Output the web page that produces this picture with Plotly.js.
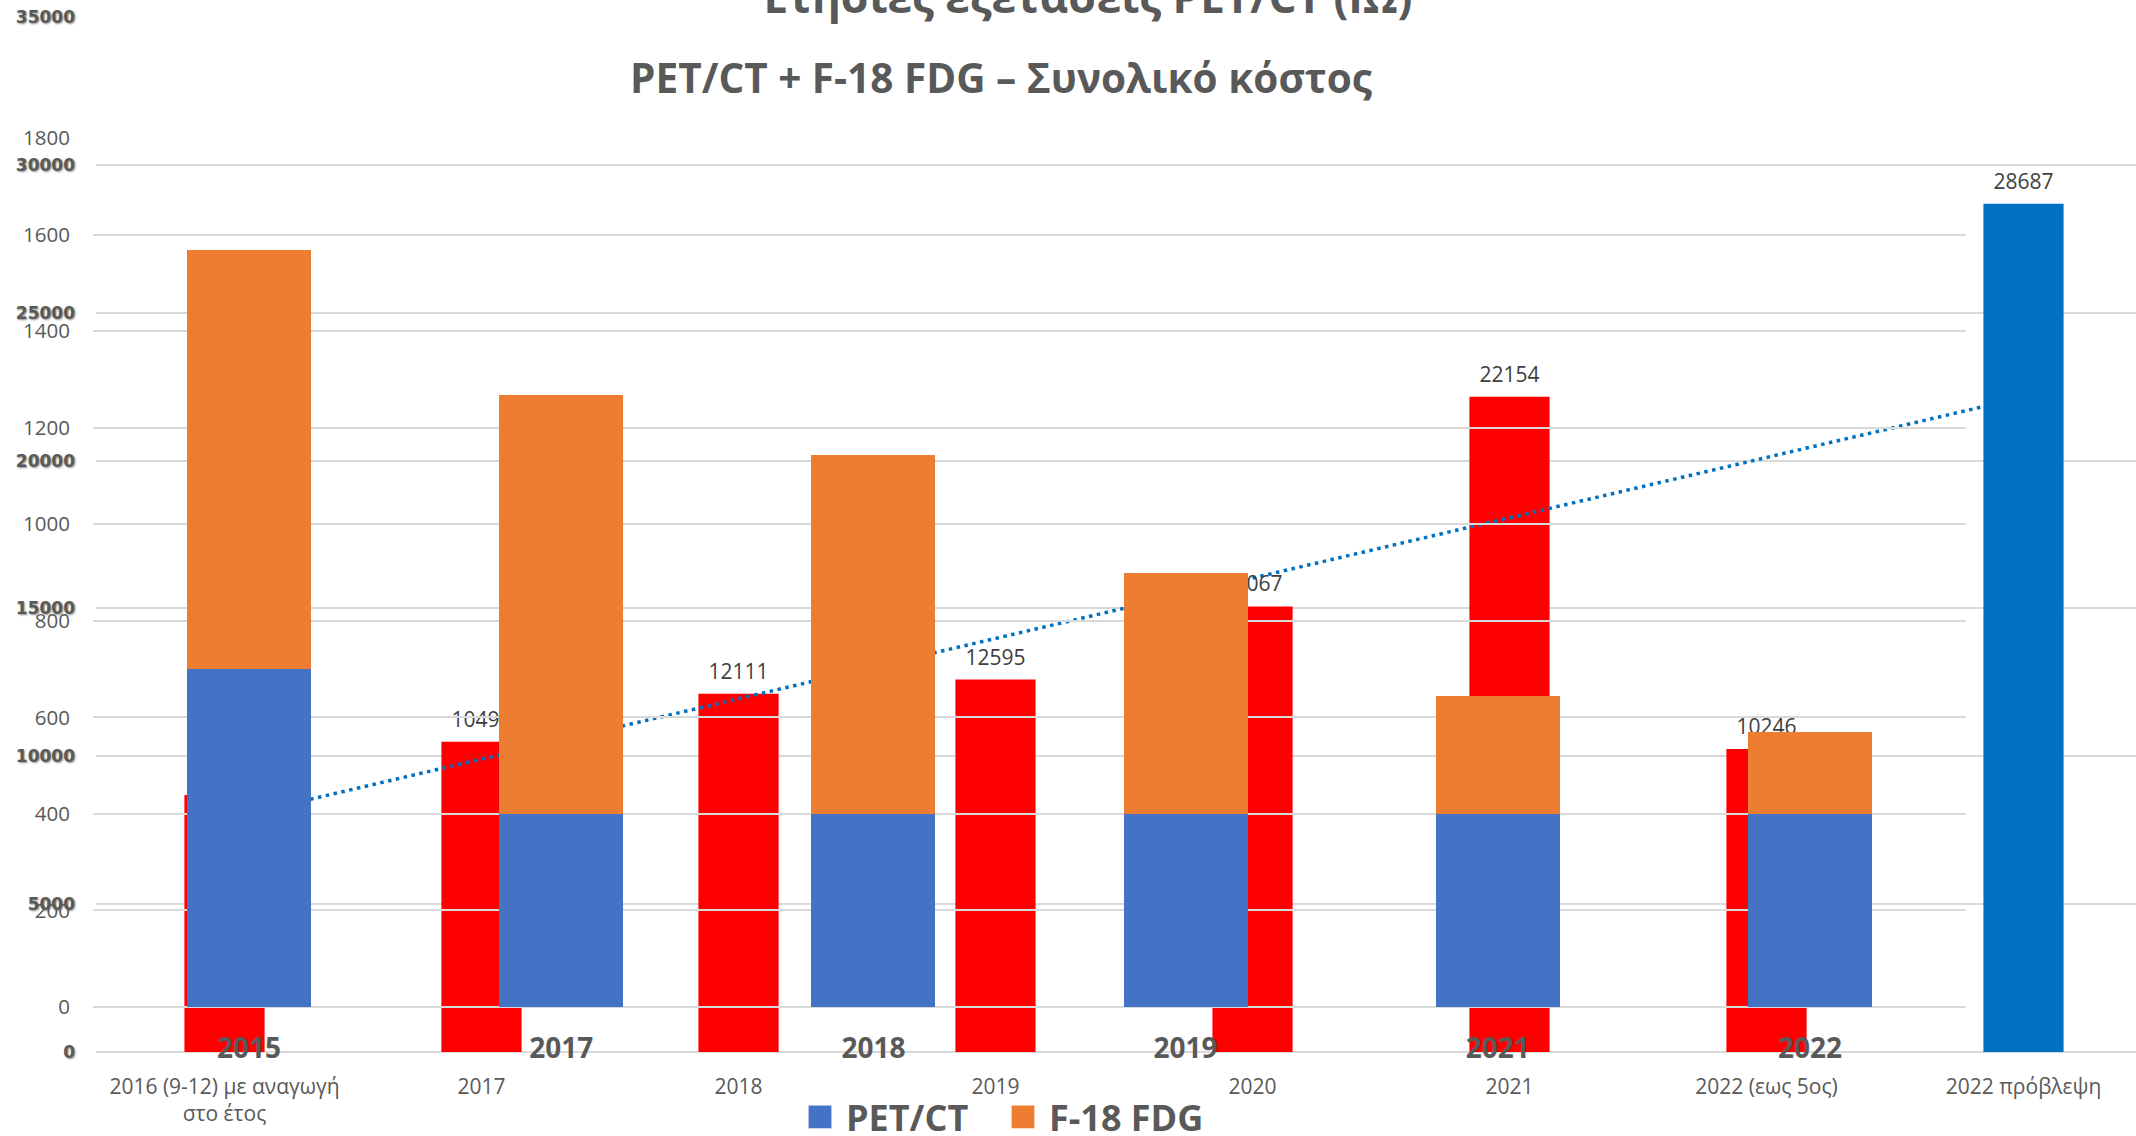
<!DOCTYPE html>
<html><head><meta charset="utf-8">
<script src="https://cdn.plot.ly/plotly-3.0.1.min.js"></script>
<style>
html,body{margin:0;padding:0;width:2136px;height:1136px;overflow:hidden;background:#fff;}
#costChart{position:absolute;left:0;top:0;width:2200px;height:1136px;}
#examChart{position:absolute;left:0;top:0;width:2136px;height:1136px;}
#examChart .legendpoints path{transform-box:fill-box;transform-origin:center;transform:translate(14px,0) scale(1.9);}
</style></head><body>
<div id="costChart"></div><div id="examChart"></div>
<script>
// ---- Back chart: annual cost ----
const costTitle = 'Ετήσιες εξετάσεις PET/CT (ΙΩ)';
const costCategories = ['2016 (9-12) με αναγωγή<br>στο έτος', '2017', '2018', '2019', '2020', '2021', '2022 (εως 5ος)', '2022 πρόβλεψη'];
const costValues = [8690, 10490, 12111, 12595, 15067, 22154, 10246, 28687];

// ---- Front chart: exams ----
const examTitle = 'PET/CT + F-18 FDG – Συνολικό κόστος';
const examYears = ['2015', '2017', '2018', '2019', '2021', '2022'];
const petctValues = [700, 400, 400, 400, 400, 400];
const fdgValues = [868, 868, 743, 500, 244, 170];

// linear trendline (least squares over the cost series)
const n = costValues.length;
const idx = costValues.map((_, i) => i);
const mx = idx.reduce((a, b) => a + b, 0) / n;
const my = costValues.reduce((a, b) => a + b, 0) / n;
let sxy = 0, sxx = 0;
idx.forEach((x, i) => { sxy += (x - mx) * (costValues[i] - my); sxx += (x - mx) * (x - mx); });
const slope = sxy / sxx, intercept = my - slope * mx;
const trendValues = idx.map(x => intercept + slope * x);

const grey = '#595959';
const costColors = costCategories.map((c, i) => i === n - 1 ? '#0070C0' : '#FF0000');

Plotly.newPlot('costChart', [
  {
    type: 'bar', x: costCategories, y: costValues,
    marker: { color: costColors },
    hoverinfo: 'skip'
  },
  {
    type: 'scatter', mode: 'lines', x: costCategories, y: trendValues,
    line: { color: '#0070C0', width: 3.5, dash: '3.5px,4.5px' },
    hoverinfo: 'skip'
  },
  {
    type: 'scatter', mode: 'markers+text', x: costCategories, y: costValues,
    marker: { size: 14, opacity: 0 },
    text: costValues.map(String), textposition: 'top center', cliponaxis: false,
    textfont: { family: 'Open Sans', size: 21, color: '#404040' },
    hoverinfo: 'skip'
  }
], {
  width: 2200, height: 1136,
  margin: { l: 96, r: 48, t: 17, b: 84, pad: 0 },
  paper_bgcolor: '#ffffff', plot_bgcolor: '#ffffff',
  showlegend: false,
  bargap: 0.688,
  title: {
    text: costTitle,
    font: { family: 'Open Sans', size: 44, color: grey, weight: 'bold' },
    xref: 'container', x: 1088 / 2200, xanchor: 'center',
    yref: 'paper', y: 1, yanchor: 'bottom', pad: { b: 4, t: 0 }
  },
  xaxis: {
    type: 'category', showgrid: false, zeroline: false, showline: false, ticks: '',
    tickfont: { family: 'Open Sans', size: 21, color: grey },
    ticklabelstandoff: 20
  },
  yaxis: {
    range: [0, 35000], dtick: 5000, tick0: 0, tickformat: 'd',
    gridcolor: '#D9D9D9', gridwidth: 2, zeroline: true, zerolinecolor: '#D9D9D9', zerolinewidth: 2,
    showline: false, ticks: '',
    tickfont: { family: 'DejaVu Sans', size: 17, color: grey, weight: 'bold', shadow: '1px 1px 2px rgba(0,0,0,0.45)' },
    ticklabelstandoff: 20
  }
}, { staticPlot: true, displayModeBar: false });

Plotly.newPlot('examChart', [
  {
    type: 'bar', name: 'PET/CT', x: examYears, y: petctValues,
    marker: { color: '#4472C4' }, hoverinfo: 'skip'
  },
  {
    type: 'bar', name: 'F-18 FDG', x: examYears, y: fdgValues,
    marker: { color: '#ED7D31' }, hoverinfo: 'skip'
  }
], {
  width: 2136, height: 1136,
  margin: { l: 93, r: 170, t: 138, b: 129, pad: 0 },
  paper_bgcolor: 'rgba(0,0,0,0)', plot_bgcolor: 'rgba(0,0,0,0)',
  barmode: 'stack', bargap: 0.603,
  title: {
    text: examTitle,
    font: { family: 'Open Sans', size: 40.5, color: grey, weight: 'bold' },
    xref: 'container', x: 1001 / 2136, xanchor: 'center',
    yref: 'container', y: 1 - 93 / 1136, yanchor: 'bottom'
  },
  xaxis: {
    type: 'category', showgrid: false, zeroline: false, showline: false, ticks: '',
    tickfont: { family: 'Open Sans', size: 28, color: grey, weight: 'bold' },
    ticklabelstandoff: 22
  },
  yaxis: {
    range: [0, 1800], dtick: 200, tick0: 0,
    gridcolor: '#D9D9D9', gridwidth: 2, zeroline: true, zerolinecolor: '#D9D9D9', zerolinewidth: 2,
    showline: false, ticks: '',
    tickfont: { family: 'Open Sans', size: 20.5, color: grey },
    ticklabelstandoff: 22
  },
  showlegend: true,
  legend: {
    orientation: 'h', traceorder: 'normal',
    entrywidth: 158, entrywidthmode: 'pixels',
    xref: 'container', yref: 'container', x: 1009 / 2136, xanchor: 'center', y: 1 - 1117 / 1136, yanchor: 'middle',
    font: { family: 'Open Sans', size: 36, color: grey, weight: 'bold' },
    bgcolor: 'rgba(0,0,0,0)'
  }
}, { staticPlot: true, displayModeBar: false });
</script>
</body></html>
